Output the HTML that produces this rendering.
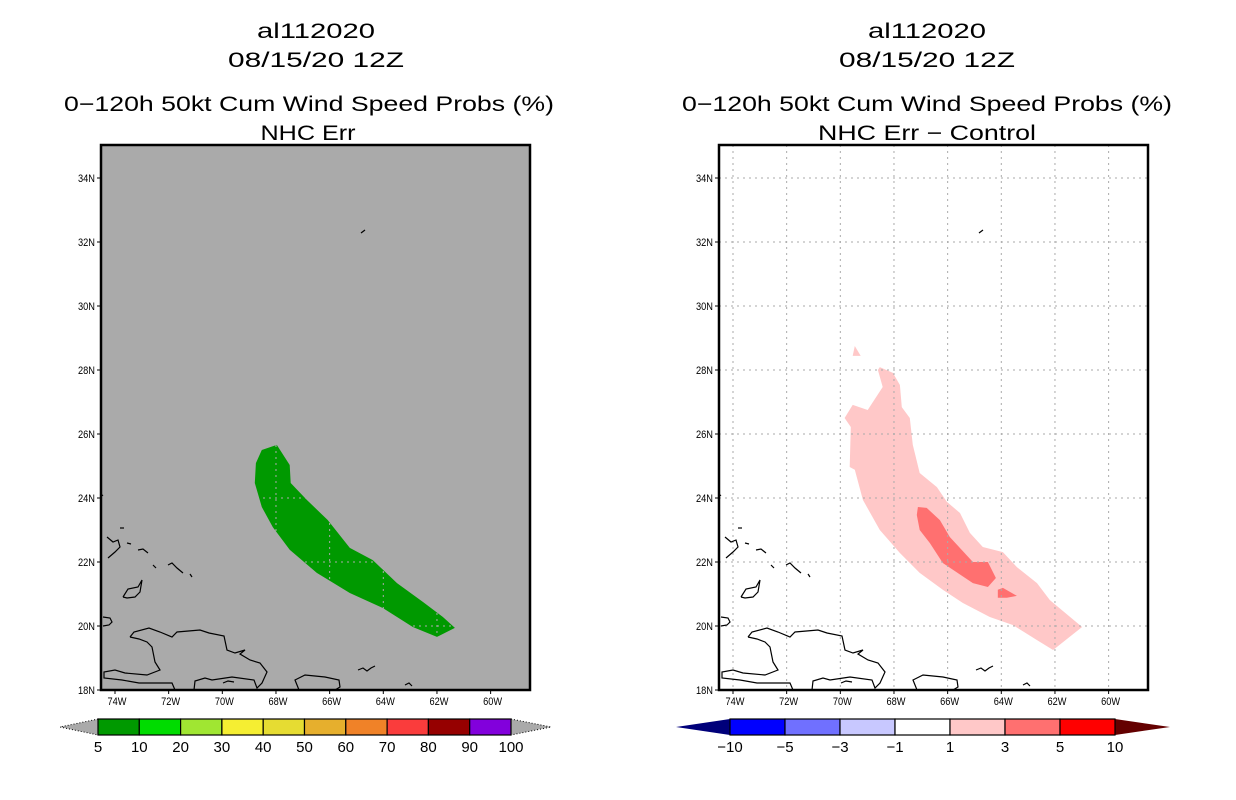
<!DOCTYPE html>
<html><head><meta charset="utf-8"><style>
html,body{margin:0;padding:0;background:#fff}
svg{display:block}
text{font-family:"Liberation Sans","DejaVu Sans",sans-serif}
</style></head><body>
<svg id="c" width="1236" height="800" viewBox="0 0 1236 800" xmlns="http://www.w3.org/2000/svg">
<g id="titles">
<text x="316" y="38" font-size="21" text-anchor="middle" textLength="118" lengthAdjust="spacingAndGlyphs">al112020</text>
<text x="316" y="67" font-size="21" text-anchor="middle" textLength="176" lengthAdjust="spacingAndGlyphs">08/15/20 12Z</text>
<text x="309" y="111" font-size="21" text-anchor="middle" textLength="490" lengthAdjust="spacingAndGlyphs">0−120h 50kt Cum Wind Speed Probs (%)</text>
<text x="308" y="140" font-size="21" text-anchor="middle" textLength="95" lengthAdjust="spacingAndGlyphs">NHC Err</text>
<text x="927" y="38" font-size="21" text-anchor="middle" textLength="118" lengthAdjust="spacingAndGlyphs">al112020</text>
<text x="927" y="67" font-size="21" text-anchor="middle" textLength="176" lengthAdjust="spacingAndGlyphs">08/15/20 12Z</text>
<text x="927" y="111" font-size="21" text-anchor="middle" textLength="490" lengthAdjust="spacingAndGlyphs">0−120h 50kt Cum Wind Speed Probs (%)</text>
<text x="927" y="140" font-size="21" text-anchor="middle" textLength="218" lengthAdjust="spacingAndGlyphs">NHC Err − Control</text>
</g>
</svg>
<script>
// ---- data (lon in degrees West, lat in degrees North) ----
const lonTicks = [74,72,70,68,66,64,62,60];
const latTicks = [18,20,22,24,26,28,30,32,34];
const probLon = [67.97,67.49,67.45,66.85,66.07,65.25,64.39,63.49,62.52,61.78,61.33,62.0,62.90,64.01,65.25,66.48,67.49,68.12,68.53,68.79,68.75,68.53];
const probLat = [25.66,25.03,24.47,23.94,23.31,22.44,22.06,21.34,20.75,20.28,19.94,19.66,19.97,20.56,21.03,21.66,22.38,23.09,23.72,24.47,25.09,25.5];
const diff1Lon = [68.53,68.04,67.78,67.71,67.41,67.30,67.04,66.40,66.03,65.54,65.17,64.69,63.94,63.42,62.67,62.19,60.99,62.07,62.67,63.57,64.43,65.43,66.18,67.04,67.78,68.53,69.16,69.46,69.65,69.61,69.84,69.54,68.98,68.42,68.60];
const diff1Lat = [28.09,27.91,27.53,26.84,26.5,25.66,24.78,24.34,23.88,23.53,22.91,22.47,22.31,21.84,21.34,20.81,19.97,19.25,19.56,20.03,20.28,20.72,21.13,21.66,22.28,23.0,23.94,24.88,24.97,26.22,26.5,26.91,26.75,27.47,28.0];
const diff1bLon = [69.46,69.24,69.54];
const diff1bLat = [28.75,28.44,28.44];
const diff3Lon = [67.11,66.78,66.29,65.92,65.06,64.50,64.20,64.50,65.06,66.18,66.66,67.04,67.15];
const diff3Lat = [23.72,23.69,23.31,22.78,22.0,22.0,21.5,21.22,21.34,21.97,22.59,23.0,23.47];
const diff3bLon = [64.13,63.94,63.42,63.79,64.13];
const diff3bLat = [21.13,21.19,20.94,20.88,20.88];
const probLevels = ["5","10","20","30","40","50","60","70","80","90","100"];
const probColors = ["#009900","#00dc00","#a0e632","#f5ee32","#e6dc32","#e6af2d","#f08228","#fa3c3c","#960000","#8200dc"];
const diffLevels = ["−10","−5","−3","−1","1","3","5","10"];
const diffColors = ["#0000ff","#7070ff","#c8c8ff","#ffffff","#ffc8c8","#ff7070","#ff0000"];

// ---- layout ----
const NS="http://www.w3.org/2000/svg";
const svg=document.getElementById('c');
const TOP=145,BOT=690,W=429;
function mk(tag,attrs,parent){const e=document.createElementNS(NS,tag);for(const k in attrs)e.setAttribute(k,attrs[k]);(parent||svg).appendChild(e);return e;}
function xScale(x0){return lon=>x0+14+(74-lon)*26.83;}
function yScale(lat){return BOT-(lat-18)*32;}
// coastline: offsets relative to frame left (geography, not data)
const coast=[
 [[29,637],[33,632],[48,628],[59,632],[71,637],[76,632],[99,630],[108,633],[123,636],[126,650],[134,653],[144,650],[139,654],[149,660],[159,663],[166,672],[161,683],[156,688],[153,680],[131,677],[111,680],[104,678],[94,681],[93,690]],
 [[74,690],[71,683],[51,683],[38,683],[21,680],[3,678],[3,672],[14,670],[24,673],[46,675],[59,670],[54,662],[51,647],[46,642],[38,639],[29,637]],
 [[198,690],[194,680],[204,675],[224,677],[238,680],[239,687],[234,690]],
 [[2,617],[9,618],[11,622],[8,625],[2,626]],
 [[22,597],[27,589],[37,587],[41,580],[39,592],[34,597],[26,598],[22,597]],
 [[6,537],[12,542],[17,540],[19,547],[14,552],[7,558]],
 [[37,550],[42,549],[47,553]],[[67,565],[71,563],[76,568],[82,573]],[[19,528],[23,528]],[[26,543],[30,544]],
 [[89,574],[91,577]],[[52,565],[55,568]],
 [[122,683],[127,681],[133,682]],[[257,670],[262,668],[266,671],[270,668],[274,666]],[[304,685],[308,683],[311,686]],
 [[260,233],[264,230]],[[-1,497],[2,495]]
];
function drawPanel(x0,name,left){
 const g=mk('g',{});
 const X=xScale(x0);
 const cid='clip-'+name;
 const cp=mk('clipPath',{id:cid},g);mk('rect',{x:x0,y:TOP,width:W,height:BOT-TOP},cp);
 mk('rect',{x:x0,y:TOP,width:W,height:BOT-TOP,fill:left?'#aaaaaa':'#ffffff'},g);
 const inner=mk('g',{'clip-path':'url(#'+cid+')'},g);
 function poly(lons,lats,fill,nm){
  const p=mk('polygon',{points:lons.map((l,i)=>X(l).toFixed(1)+','+yScale(lats[i]).toFixed(1)).join(' '),fill:fill},inner);
  
  
 }
 if(left){poly(probLon,probLat,'#009900','prob-5-10-region');}
 else{poly(diff1Lon,diff1Lat,'#ffc8c8','diff-1-3-region');poly(diff1bLon,diff1bLat,'#ffc8c8','diff-1-3-north-spot');
  poly(diff3Lon,diff3Lat,'#ff7070','diff-3-5-region');poly(diff3bLon,diff3bLat,'#ff7070','diff-3-5-spot');}
 const grid=mk('g',{stroke:'#aaaaaa','stroke-width':1,'stroke-dasharray':'2,4'},inner);
 
 
 lonTicks.forEach(l=>mk('line',{x1:X(l),x2:X(l),y1:TOP,y2:BOT},grid));
 latTicks.forEach(l=>mk('line',{x1:x0,x2:x0+W,y1:yScale(l),y2:yScale(l)},grid));
 const cg=mk('g',{fill:'none',stroke:'#000','stroke-width':1.2},inner);
 
 
 coast.forEach(c=>mk('polyline',{points:c.map(p=>(x0+p[0])+','+p[1]).join(' ')},cg));
 mk('rect',{x:x0,y:TOP,width:W,height:BOT-TOP,fill:'none',stroke:'#000','stroke-width':2.5},g);
 latTicks.forEach(l=>{
  mk('line',{x1:x0-4,x2:x0,y1:yScale(l),y2:yScale(l),stroke:'#000'},g);
  const t=mk('text',{x:x0-6,y:yScale(l)+4,'font-size':11,'text-anchor':'end',textLength:17,lengthAdjust:'spacingAndGlyphs'},g);
  t.textContent=l+'N';
  
  
 });
 lonTicks.forEach(l=>{
  mk('line',{x1:X(l),x2:X(l),y1:BOT,y2:BOT+4,stroke:'#000'},g);
  const t=mk('text',{x:X(l)+2,y:BOT+15,'font-size':11,'text-anchor':'middle',textLength:19,lengthAdjust:'spacingAndGlyphs'},g);
  t.textContent=l+'W';
  
  
 });
}
drawPanel(101,'left-map',true);
drawPanel(719,'right-map',false);

function colorbar(x0,x1,lx,rx,colors,labels,lc,rc,dash,name){
 const g=mk('g',{});
 const y0=719,y1=735,ym=727,n=colors.length,w=(x1-x0)/n;
 const a=mk('polygon',{points:`${x0},${y0} ${lx},${ym} ${x0},${y1}`,fill:lc,stroke:dash?'#000':'none','stroke-dasharray':dash?'1,2':'none'},g);
 
 
 const b=mk('polygon',{points:`${x1},${y0} ${rx},${ym} ${x1},${y1}`,fill:rc,stroke:dash?'#000':'none','stroke-dasharray':dash?'1,2':'none'},g);
 
 
 colors.forEach((c,i)=>{
  const r=mk('rect',{x:x0+i*w,y:y0,width:w,height:y1-y0,fill:c,stroke:'#000','stroke-width':1.2},g);
  
  
 });
 labels.forEach((s,i)=>{
  const t=mk('text',{x:x0+i*w,y:752,'font-size':15,'text-anchor':'middle'},g);
  t.textContent=s;
  
  
 });
}
colorbar(98,511,60,551,probColors,probLevels,'#aaaaaa','#aaaaaa',true,'prob-colorbar');
colorbar(730,1115,676,1170,diffColors,diffLevels,'#00007a','#640000',false,'diff-colorbar');
</script>
</body></html>
